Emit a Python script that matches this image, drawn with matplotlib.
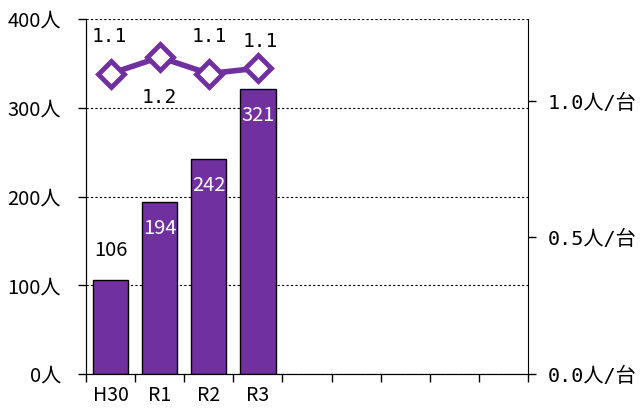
import matplotlib
matplotlib.use("Agg")
import matplotlib.pyplot as plt
import numpy as np

categories = ["H30", "R1", "R2", "R3", "", "", "", "", ""]
people = [106, 194, 242, 321]
ratio = [1.10, 1.16, 1.10, 1.12]
ratio_labels = ["1.1", "1.2", "1.1", "1.1"]
left_ticks = [0, 100, 200, 300, 400]
left_tick_labels = ["0人", "100人", "200人", "300人", "400人"]
right_ticks = [0.0, 0.5, 1.0]
right_tick_labels = ["0.0人/台", "0.5人/台", "1.0人/台"]

purple = "#7030A0"
cjk = ["Noto Sans CJK JP", "DejaVu Sans"]
mono = ["DejaVu Sans Mono", "Noto Sans CJK JP"]

fig = plt.figure(figsize=(6.43, 4.12), dpi=100)
ax = fig.add_axes([86/643, 1-374/412, (528-86)/643, (374-19)/412])
ax2 = ax.twinx()

x = np.arange(len(categories))
n = len(people)
ax.bar(x[:n], people, width=0.72, color=purple, edgecolor="black", linewidth=1, zorder=2)
ax.set_xlim(-0.5, len(categories) - 0.5)
ax.set_ylim(0, 400)
ax.set_yticks(left_ticks)
ax.set_yticklabels(left_tick_labels, family=cjk, fontsize=14.5)
ax.set_xticks(np.arange(len(categories) + 1) - 0.5)
ax.set_xticklabels([])
ax.set_xticks(x, minor=True)
ax.set_xticklabels(categories, minor=True, family=cjk, fontsize=14)
ax.tick_params(axis="x", which="minor", length=0, pad=8)
ax.tick_params(axis="x", which="major", length=6, direction="out", width=1)
ax.tick_params(axis="y", length=6, direction="out", pad=12, width=1)
ax.grid(axis="y", color="black", linestyle=(0, (2, 2)), linewidth=0.8, zorder=0)
ax.set_axisbelow(True)
ax.spines["top"].set_visible(False)
ax2.spines["top"].set_visible(False)
ax.spines["right"].set_visible(False)

# bar labels
for i, v in enumerate(people):
    if i == 0:
        ax.annotate(str(v), (x[i], v), xytext=(0, 21), textcoords="offset points",
                    ha="center", va="center", fontsize=14.5, family=cjk, color="black")
    else:
        ax.annotate(str(v), (x[i], v), xytext=(0, -19), textcoords="offset points",
                    ha="center", va="center", fontsize=14.5, family=cjk, color="white")

ax2.set_ylim(0, 1.3)
ax2.set_yticks(right_ticks)
ax2.set_yticklabels(right_tick_labels, family=mono, fontsize=14.5)
ax2.tick_params(axis="y", length=6, direction="out", pad=8, width=1)
ax2.plot(x[:n], ratio, color=purple, linewidth=4, marker="D", markersize=13,
         markerfacecolor="white", markeredgecolor=purple, markeredgewidth=3.5, zorder=3)

offsets = [(-1, 27), (0, -29), (0, 26.5), (1.5, 19)]
for i, (r, lab) in enumerate(zip(ratio, ratio_labels)):
    ax2.annotate(lab, (x[i], r), xytext=offsets[i], textcoords="offset points",
                 ha="center", va="center", fontsize=14, family=mono)

fig.savefig("out.png", dpi=100)
